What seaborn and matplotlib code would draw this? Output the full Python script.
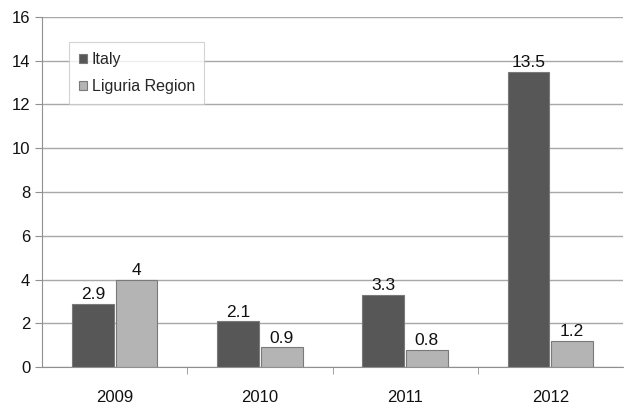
import seaborn as sns
import matplotlib.pyplot as plt
import pandas as pd

years = ["2009", "2010", "2011", "2012"]
italy = [2.9, 2.1, 3.3, 13.5]
liguria = [4, 0.9, 0.8, 1.2]
series = ["Italy", "Liguria Region"]
labels_italy = ["2.9", "2.1", "3.3", "13.5"]
labels_liguria = ["4", "0.9", "0.8", "1.2"]

df = pd.DataFrame({
    "year": years * 2,
    "value": italy + liguria,
    "series": [series[0]] * 4 + [series[1]] * 4,
})

sns.set_style("white")
plt.rcParams["font.family"] = ["Liberation Sans", "DejaVu Sans"]

fig = plt.figure(figsize=(6.37, 4.12), dpi=100)
ax = fig.add_axes([0.066, 0.109, 0.912, 0.85])

palette = {"Italy": "#575757", "Liguria Region": "#b4b4b4"}
sns.barplot(data=df, x="year", y="value", hue="series", palette=palette,
            width=0.6, gap=0.04, edgecolor="#7a7a7a", linewidth=0.8,
            saturation=1, ax=ax)

for cont, labs in zip(ax.containers, [labels_italy, labels_liguria]):
    ax.bar_label(cont, labels=labs, padding=1, fontsize=12.5, color="#111111")

ax.set_ylim(0, 16)
ax.set_yticks(range(0, 17, 2))
ax.set_xlim(-0.5, 3.5)
ax.yaxis.grid(True, color="#a8a8a8", linewidth=1)
ax.set_axisbelow(True)
ax.set_xlabel("")
ax.set_ylabel("")
for s in ["top", "right"]:
    ax.spines[s].set_visible(False)
ax.spines["left"].set_color("#909090")
ax.spines["bottom"].set_color("#909090")
ax.tick_params(axis="both", labelsize=12, colors="#111111")
ax.tick_params(axis="y", left=True, length=5, color="#909090")
ax.tick_params(axis="x", bottom=False, pad=13)
ax.set_xticks([0.5, 1.5, 2.5], minor=True)
ax.tick_params(axis="x", which="minor", bottom=True, length=5, color="#909090")

leg = ax.legend(loc="upper left", bbox_to_anchor=(0.033, 0.95), fontsize=11.5,
                frameon=True, fancybox=False, edgecolor="#c8c8c8",
                handlelength=0.5, handleheight=0.5, handletextpad=0.3,
                labelspacing=0.75, borderpad=0.6)
leg.get_frame().set_linewidth(0.8)

fig.savefig("out.png", dpi=100)
